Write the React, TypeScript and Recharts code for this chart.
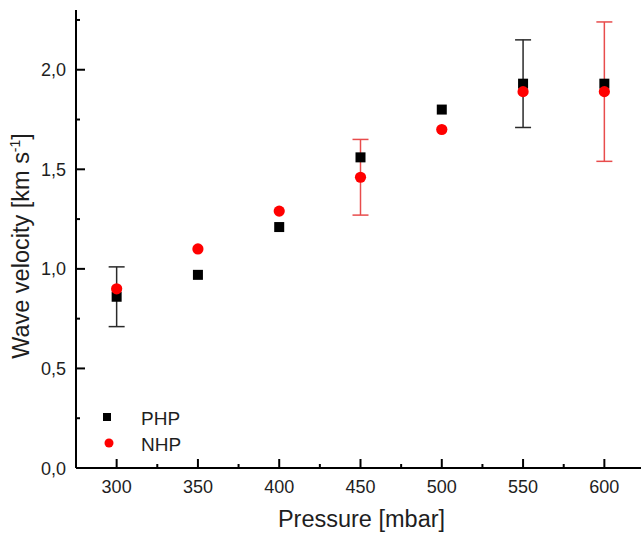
import React from 'react';
import { ScatterChart, Scatter, XAxis, YAxis, ErrorBar, Legend } from 'recharts';

const pressure = [300, 350, 400, 450, 500, 550, 600];
const phpVelocity = [0.86, 0.97, 1.21, 1.56, 1.80, 1.93, 1.93];
const phpError: (number | null)[] = [0.15, null, null, null, null, 0.22, null];
const nhpVelocity = [0.90, 1.10, 1.29, 1.46, 1.70, 1.89, 1.89];
const nhpError: (number | null)[] = [null, null, null, 0.19, null, null, 0.35];

const xMajor = [300, 350, 400, 450, 500, 550, 600];
const xMinor = [325, 375, 425, 475, 525, 575];
const yMajor = [0, 0.5, 1.0, 1.5, 2.0];
const yMinor = [0.25, 0.75, 1.25, 1.75, 2.25];

const phpData = pressure.map((p, i) => ({ x: p, y: phpVelocity[i], err: phpError[i] ?? undefined }));
const nhpData = pressure.map((p, i) => ({ x: p, y: nhpVelocity[i], err: nhpError[i] ?? undefined }));

const FONT = '"Liberation Sans", Arial, sans-serif';
const TEXT = '#1e1e1e';
const xTicks = [...xMajor, ...xMinor].sort((a, b) => a - b);
const yTicks = [...yMajor, ...yMinor].sort((a, b) => a - b);
const isMajorX = (v: number) => xMajor.some((m) => Math.abs(m - v) < 1e-6);
const isMajorY = (v: number) => yMajor.some((m) => Math.abs(m - v) < 1e-6);

const BottomTick = (props: any) => {
  const { x, y, payload } = props;
  const major = isMajorX(payload.value);
  return (
    <g>
      <line x1={x} x2={x} y1={y} y2={y - (major ? 9 : 4)} stroke="#000" strokeWidth={2} />
      {major && (
        <text x={x} y={y + 25} textAnchor="middle" fontSize={18} fill={TEXT} fontFamily={FONT}>
          {payload.value}
        </text>
      )}
    </g>
  );
};

const TopTick = (props: any) => {
  const { x, y, payload } = props;
  const major = isMajorX(payload.value);
  return <line x1={x} x2={x} y1={y} y2={y + (major ? 9 : 4)} stroke="#000" strokeWidth={2} />;
};

const LeftTick = (props: any) => {
  const { x, y, payload } = props;
  const major = isMajorY(payload.value);
  return (
    <g>
      <line x1={x} x2={x + (major ? 9 : 4)} y1={y} y2={y} stroke="#000" strokeWidth={2} />
      {major && (
        <text x={x - 10} y={y + 6.5} textAnchor="end" fontSize={18} fill={TEXT} fontFamily={FONT}>
          {payload.value.toFixed(1).replace('.', ',')}
        </text>
      )}
    </g>
  );
};

const RightTick = (props: any) => {
  const { x, y, payload } = props;
  const major = isMajorY(payload.value);
  return <line x1={x} x2={x - (major ? 9 : 4)} y1={y} y2={y} stroke="#000" strokeWidth={2} />;
};

const SquareShape = (p: any) => <rect x={p.cx - 5} y={p.cy - 5} width={10} height={10} fill="#000" />;
const CircleShape = (p: any) => <circle cx={p.cx} cy={p.cy} r={5.6} fill="#ff0000" />;
const NoShape = () => <g />;

const LegendContent = () => (
  <svg width={200} height={60} style={{ display: 'block' }}>
    <rect x={5} y={10} width={8} height={8} fill="#000" />
    <text x={43} y={22} fontSize={19} fill={TEXT} fontFamily={FONT}>PHP</text>
    <circle cx={11} cy={40} r={4.5} fill="#ff0000" />
    <text x={43} y={48} fontSize={19} fill={TEXT} fontFamily={FONT}>NHP</text>
  </svg>
);

const YLabel = () => (
  <text transform="translate(21,238) rotate(-90)" textAnchor="middle" fontSize={23.5} fill={TEXT} fontFamily={FONT}>
    Wave velocity [km s
    <tspan dy={-9} fontSize={14}>-1</tspan>
    <tspan dy={9}>]</tspan>
  </text>
);

const XLabel = (props: any) => {
  const vb = props.viewBox || {};
  return (
    <text x={vb.x + vb.width / 2 + 1} y={519} textAnchor="middle" fontSize={23.5} fill={TEXT} fontFamily={FONT}>
      Pressure [mbar]
    </text>
  );
};

export default function App() {
  return (
    <div style={{ position: 'absolute', left: 8, top: 8, width: 633, height: 528, overflow: 'hidden', background: '#fff' }}>
      <ScatterChart width={700} height={528} margin={{ top: 2, right: 63, bottom: 0, left: 0 }}>
        <XAxis
          xAxisId="b"
          dataKey="x"
          type="number"
          domain={[275, 625]}
          ticks={xTicks}
          interval={0}
          orientation="bottom"
          height={68}
          tickSize={0}
          tickMargin={0}
          tickLine={false}
          tick={<BottomTick />}
          axisLine={{ stroke: '#000', strokeWidth: 2 }}
          allowDataOverflow
          label={<XLabel />}
        />
        <XAxis
          xAxisId="t"
          dataKey="x"
          type="number"
          domain={[275, 625]}
          ticks={xTicks}
          interval={0}
          orientation="top"
          height={0}
          tickSize={0}
          tickMargin={0}
          tickLine={false}
          tick={<TopTick />}
          axisLine={{ stroke: '#000', strokeWidth: 2 }}
          allowDataOverflow
        />
        <YAxis
          yAxisId="l"
          dataKey="y"
          type="number"
          domain={[0, 2.3]}
          ticks={yTicks}
          interval={0}
          orientation="left"
          width={68}
          tickSize={0}
          tickMargin={0}
          tickLine={false}
          tick={<LeftTick />}
          axisLine={{ stroke: '#000', strokeWidth: 2 }}
          allowDataOverflow
          label={<YLabel />}
        />
        <YAxis
          yAxisId="r"
          dataKey="y"
          type="number"
          domain={[0, 2.3]}
          ticks={yTicks}
          interval={0}
          orientation="right"
          width={0}
          tickSize={0}
          tickMargin={0}
          tickLine={false}
          tick={<RightTick />}
          axisLine={{ stroke: '#000', strokeWidth: 2 }}
          allowDataOverflow
        />
        <Scatter
          name="frame"
          data={phpData}
          xAxisId="t"
          yAxisId="r"
          shape={NoShape}
          legendType="none"
          isAnimationActive={false}
        />
        <Scatter name="PHP" data={phpData} xAxisId="b" yAxisId="l" shape={SquareShape} isAnimationActive={false}>
          <ErrorBar dataKey="err" direction="y" width={8} stroke="#2a2a2a" strokeWidth={1.5} isAnimationActive={false} />
        </Scatter>
        <Scatter name="NHP" data={nhpData} xAxisId="b" yAxisId="l" shape={CircleShape} isAnimationActive={false}>
          <ErrorBar dataKey="err" direction="y" width={8} stroke="#e84c4c" strokeWidth={1.5} isAnimationActive={false} />
        </Scatter>
        <Legend
          layout="vertical"
          align="center"
          verticalAlign="middle"
          width={200}
          height={60}
          wrapperStyle={{ left: 90, top: 395, width: 200, height: 60 }}
          content={<LegendContent />}
        />
      </ScatterChart>
    </div>
  );
}
